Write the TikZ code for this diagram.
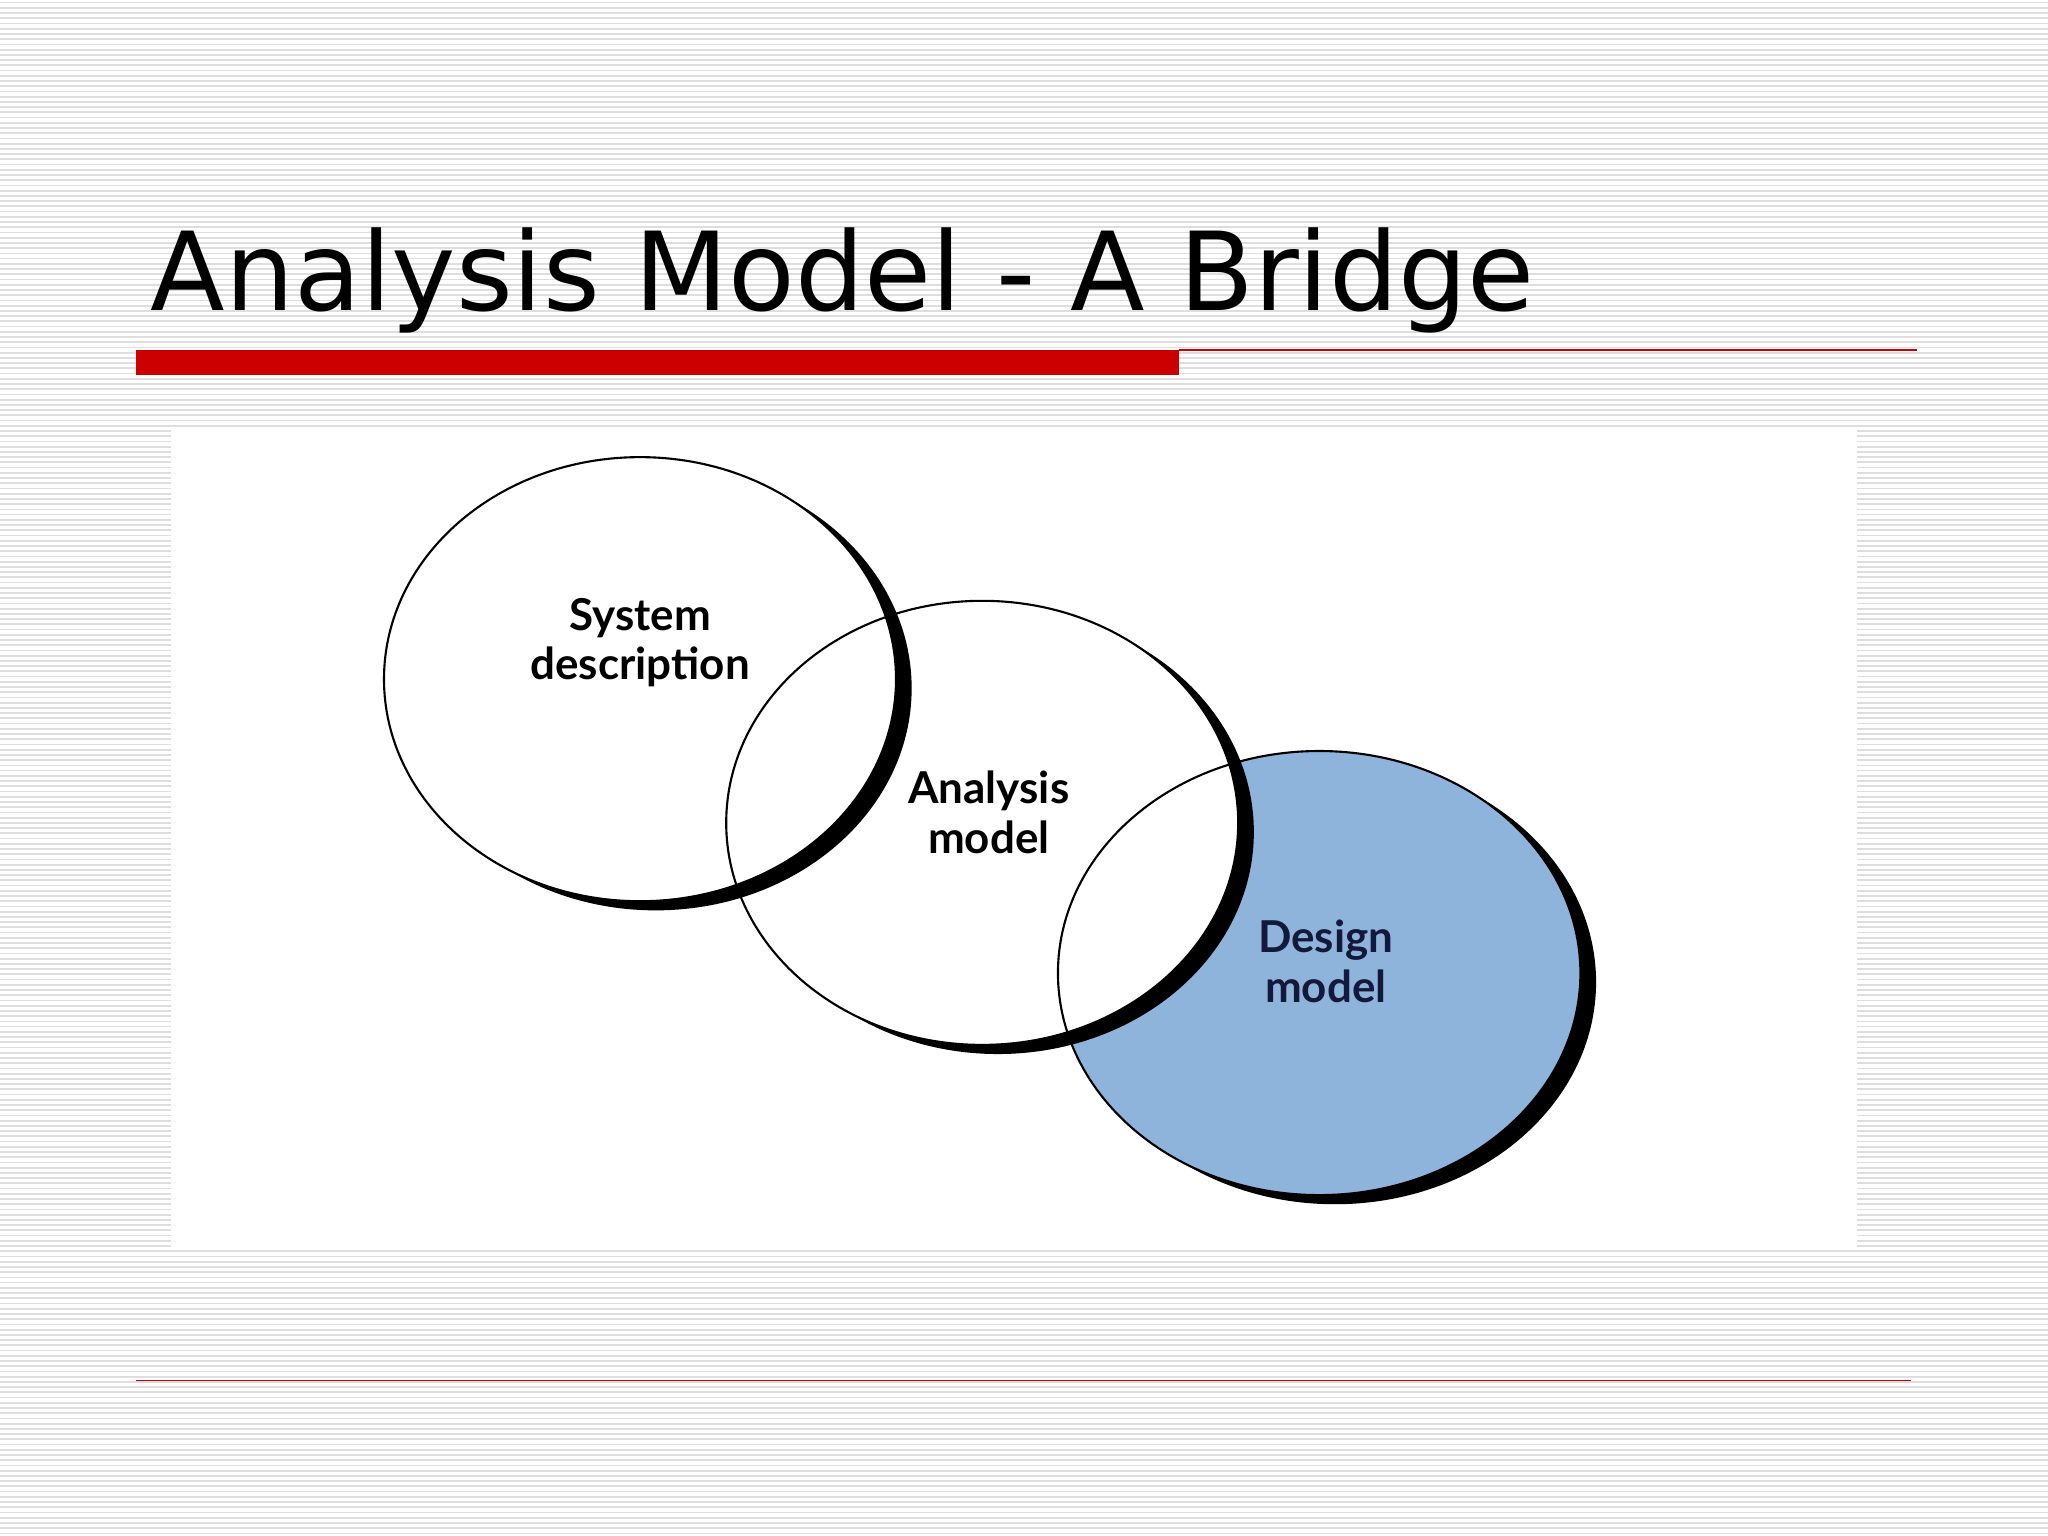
\documentclass[tikz,border=0pt]{standalone}
\usepackage{fontspec}
\setmainfont{DejaVu Sans}
\newfontfamily\labelfont{Lato}
\definecolor{barred}{RGB}{204,0,0}
\definecolor{stripe}{RGB}{222,222,222}
\definecolor{designblue}{RGB}{143,180,219}
\begin{document}
\begin{tikzpicture}[x=0.01306cm,y=-0.01306cm]
        \tikzset{shadowring/.style={fill=black},
                 ring/.style={draw=black,line width=0.6pt},
                 tag/.style={font=\labelfont\bfseries\fontsize{12.5}{14}\selectfont,align=center,inner sep=0pt}}
        \useasboundingbox (0,0) rectangle (1568,1176);
        \fill [white] (0,0) rectangle (1568,1176);
        \foreach \y in {2,6,...,1176}
            \draw [stripe,line width=0.5pt] (0,\y) -- (1568,\y);
        \node [anchor=base west,inner sep=0pt,font=\fontsize{31}{36}\selectfont] (title) at (115,238) {Analysis Model - A Bridge};
        \fill [barred] (104,268) rectangle (903,287);
        \draw [barred,line width=0.6pt] (903,268) -- (1468,268);
        \draw [barred,line width=0.4pt] (104,1057) -- (1463,1057);
        \fill [white] (131,328) rectangle (1422,955);
        % design model
        \fill [shadowring] (1022,752) ellipse (200 and 170);
        \fill [designblue] (1010,745) ellipse (200 and 170);
        % analysis model
        \fill [shadowring] (764,637) ellipse (196 and 170);
        \fill [white] (752,630) ellipse (196 and 170);
        % system description
        \fill [shadowring] (502,527) ellipse (196 and 170);
        \fill [white] (490,520) ellipse (196 and 170);
        \draw [ring] (1010,745) ellipse (200 and 170);
        \draw [ring] (752,630) ellipse (196 and 170);
        \draw [ring] (490,520) ellipse (196 and 170);
        \node [tag] (system) at (490,492) {System\\description};
        \node [tag] (analysis) at (757,622) {Analysis\\model};
        \node [tag,text={rgb,255:red,20;green,25;blue,60}] (design) at (1015,736) {Design\\model};
\end{tikzpicture}
\end{document}
